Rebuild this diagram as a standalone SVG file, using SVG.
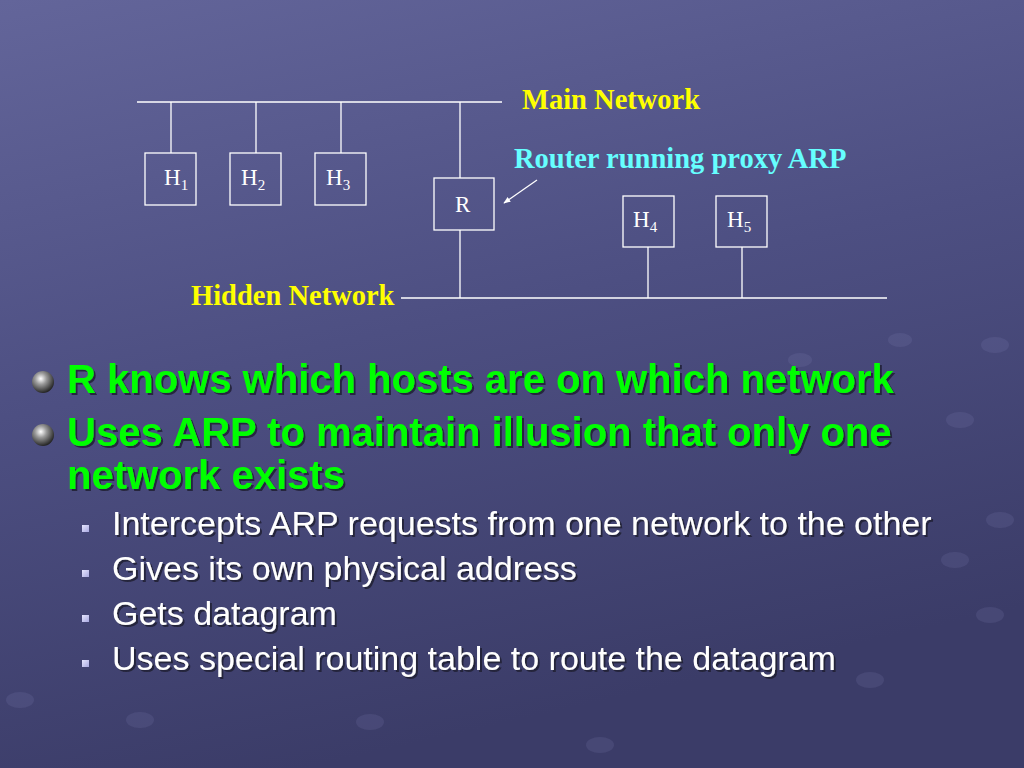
<svg xmlns="http://www.w3.org/2000/svg" width="1024" height="768" viewBox="0 0 1024 768">
  <defs>
    <linearGradient id="bg" x1="0" y1="0" x2="0.3" y2="1">
      <stop offset="0" stop-color="#63659a"/>
      <stop offset="0.5" stop-color="#4d4f82"/>
      <stop offset="1" stop-color="#3b3c68"/>
    </linearGradient>
    <radialGradient id="ball" cx="0.4" cy="0.35" r="0.65">
      <stop offset="0" stop-color="#ffffff"/>
      <stop offset="0.4" stop-color="#9a9a9a"/>
      <stop offset="1" stop-color="#262626"/>
    </radialGradient>
    <linearGradient id="sq" x1="0" y1="0" x2="1" y2="1">
      <stop offset="0" stop-color="#e6e6ff"/>
      <stop offset="1" stop-color="#a8a8e0"/>
    </linearGradient>
    <filter id="shadow" x="-5%" y="-20%" width="110%" height="150%">
      <feDropShadow dx="2" dy="2" stdDeviation="0.6" flood-color="#1a1a30" flood-opacity="0.85"/>
    </filter>
    <marker id="arrow" viewBox="0 0 10 10" refX="9" refY="5" markerWidth="7" markerHeight="7" orient="auto" markerUnits="userSpaceOnUse">
      <path d="M0,1 L10,5 L0,9 z" fill="#ffffff"/>
    </marker>
  </defs>
  <style>
    .wire { stroke: #ffffff; stroke-width: 1.3; fill: none; }
    .box { stroke: #ffffff; stroke-width: 1.3; fill: none; }
    .host { font-family: "Liberation Serif", serif; font-size: 23px; fill: #ffffff; }
    .sub { font-size: 15px; }
    .lbl { font-family: "Liberation Serif", serif; font-weight: bold; font-size: 28.5px; }
    .main { font-family: "Liberation Sans", Arial, sans-serif; font-weight: bold; font-size: 40px; fill: #00ff00; filter: url(#shadow); }
    .minor { font-family: "Liberation Sans", Arial, sans-serif; font-size: 34px; fill: #ffffff; filter: url(#shadow); }
    .dot { fill: #8a8cc0; opacity: 0.15; }
    .sqb { fill: url(#sq); }
  </style>

  <rect x="0" y="0" width="1024" height="768" fill="url(#bg)"/>
  <g id="decor">
    <ellipse class="dot" cx="995" cy="345" rx="14" ry="8"/>
    <ellipse class="dot" cx="960" cy="420" rx="14" ry="8"/>
    <ellipse class="dot" cx="1000" cy="520" rx="14" ry="8"/>
    <ellipse class="dot" cx="955" cy="560" rx="14" ry="8"/>
    <ellipse class="dot" cx="990" cy="615" rx="14" ry="8"/>
    <ellipse class="dot" cx="140" cy="720" rx="14" ry="8"/>
    <ellipse class="dot" cx="370" cy="722" rx="14" ry="8"/>
    <ellipse class="dot" cx="600" cy="745" rx="14" ry="8"/>
    <ellipse class="dot" cx="870" cy="680" rx="14" ry="8"/>
    <ellipse class="dot" cx="20" cy="700" rx="14" ry="8"/>
    <ellipse class="dot" cx="900" cy="340" rx="12" ry="7"/>
    <ellipse class="dot" cx="800" cy="360" rx="12" ry="7"/>
  </g>

  <g id="connectors">
    <line class="wire" x1="137" y1="102" x2="502" y2="102"/>
    <line class="wire" x1="171" y1="102" x2="171" y2="153"/>
    <line class="wire" x1="256" y1="102" x2="256" y2="153"/>
    <line class="wire" x1="341" y1="102" x2="341" y2="153"/>
    <line class="wire" x1="460" y1="102" x2="460" y2="178"/>
    <line class="wire" x1="460" y1="230" x2="460" y2="298"/>
    <line class="wire" x1="401" y1="298" x2="887" y2="298"/>
    <line class="wire" x1="648" y1="247" x2="648" y2="298"/>
    <line class="wire" x1="742" y1="247" x2="742" y2="298"/>
    <line class="wire" x1="537" y1="180" x2="504" y2="203" marker-end="url(#arrow)"/>
  </g>

  <g id="H1">
    <rect class="box" x="145" y="153" width="51" height="52"/>
    <text class="host" x="164" y="185">H<tspan class="sub" dy="5">1</tspan></text>
  </g>
  <g id="H2">
    <rect class="box" x="230" y="153" width="51" height="52"/>
    <text class="host" x="241" y="185">H<tspan class="sub" dy="5">2</tspan></text>
  </g>
  <g id="H3">
    <rect class="box" x="315" y="153" width="51" height="52"/>
    <text class="host" x="326" y="185">H<tspan class="sub" dy="5">3</tspan></text>
  </g>
  <g id="R">
    <rect class="box" x="434" y="178" width="60" height="52"/>
    <text class="host" x="455" y="212">R</text>
  </g>
  <g id="H4">
    <rect class="box" x="623" y="196" width="51" height="51"/>
    <text class="host" x="633" y="227">H<tspan class="sub" dy="5">4</tspan></text>
  </g>
  <g id="H5">
    <rect class="box" x="716" y="196" width="51" height="51"/>
    <text class="host" x="727" y="227">H<tspan class="sub" dy="5">5</tspan></text>
  </g>

  <g id="labels">
    <text class="lbl" x="522" y="109" fill="#ffff00">Main Network</text>
    <text class="lbl" x="514" y="168" fill="#66ffff">Router running proxy ARP</text>
    <text class="lbl" x="191" y="305" fill="#ffff00">Hidden Network</text>
  </g>

  <g id="bullets">
    <circle cx="43" cy="382" r="11" fill="url(#ball)"/>
    <circle cx="43" cy="435" r="11" fill="url(#ball)"/>
    <text class="main" x="67" y="393">R knows which hosts are on which network</text>
    <text class="main" x="67" y="446">Uses ARP to maintain illusion that only one</text>
    <text class="main" x="67" y="489">network exists</text>
    <rect class="sqb" x="82" y="525" width="7" height="7"/>
    <rect class="sqb" x="82" y="570" width="7" height="7"/>
    <rect class="sqb" x="82" y="615" width="7" height="7"/>
    <rect class="sqb" x="82" y="660" width="7" height="7"/>
    <text class="minor" x="112" y="535">Intercepts ARP requests from one network to the other</text>
    <text class="minor" x="112" y="580">Gives its own physical address</text>
    <text class="minor" x="112" y="625">Gets datagram</text>
    <text class="minor" x="112" y="670">Uses special routing table to route the datagram</text>
  </g>
</svg>
